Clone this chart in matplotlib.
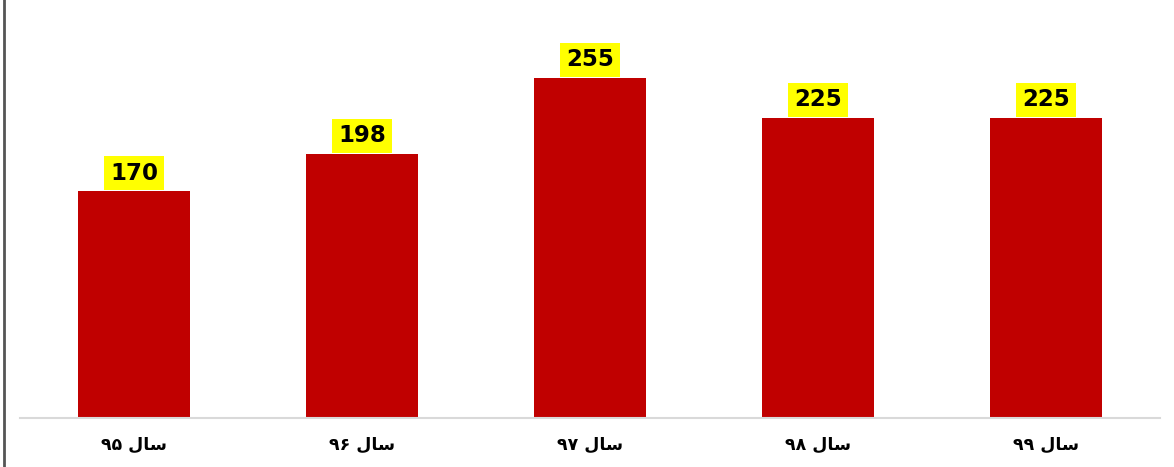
import matplotlib.pyplot as plt
from matplotlib.lines import Line2D

# data
years = ["۹۵", "۹۶", "۹۷", "۹۸", "۹۹"]
values = [170, 198, 255, 225, 225]

# "سال" shaped by hand (presentation forms, visual order) since matplotlib has no shaping
SAL = "\uFEDD\uFE8E\uFEB3"
labels = [y + " " + SAL for y in years]

W, H = 1174, 467
fig = plt.figure(figsize=(W / 100, H / 100), dpi=100)
ax = fig.add_axes([20 / W, (H - 418) / H, 1140 / W, 418 / H])

x = range(len(values))
ax.bar(x, values, width=0.49, color="#C00000", zorder=2)
ax.set_xlim(-0.5, 4.5)
ax.set_ylim(0, 313.5)

for i, v in zip(x, values):
    ax.text(i, v + 5, str(v), ha="center", va="bottom", fontsize=16.5,
            fontweight="bold", color="black", zorder=4,
            bbox=dict(boxstyle="square,pad=0.25", fc="#FFFF00", ec="none"))

ax.set_xticks(list(x))
ax.set_xticklabels(labels, fontsize=12.5, fontweight="bold", family="DejaVu Sans")
ax.tick_params(axis="x", length=0, pad=13)
ax.set_yticks([])
for s in ["top", "right", "left"]:
    ax.spines[s].set_visible(False)
ax.spines["bottom"].set_color("#d9d9d9")
ax.spines["bottom"].set_linewidth(1.5)

# left border
fig.add_artist(Line2D([4 / W, 4 / W], [0, 1], color="#555555", lw=2))

fig.savefig("out.png", dpi=100)
